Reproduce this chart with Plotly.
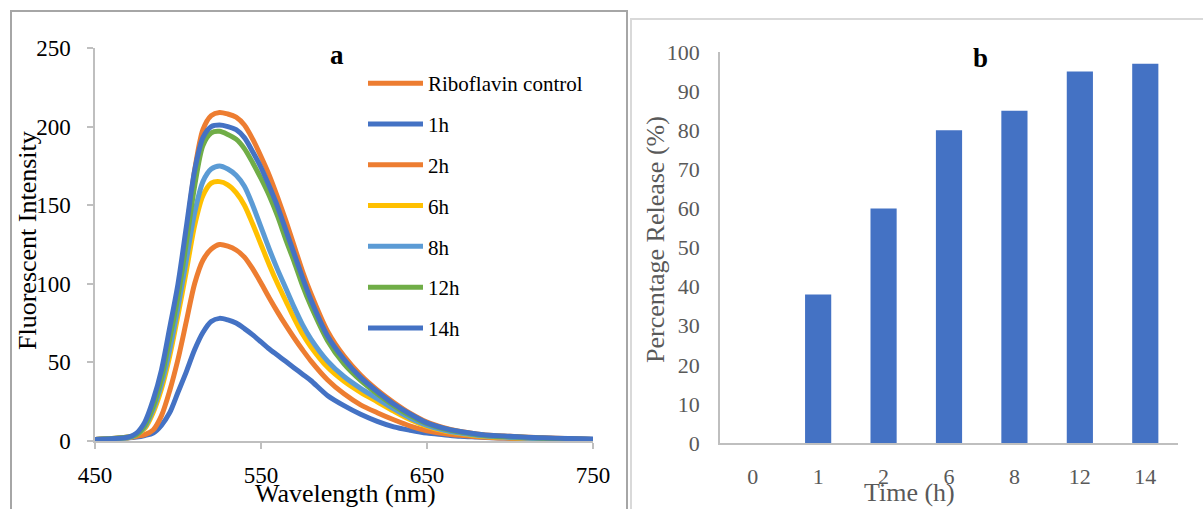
import plotly.graph_objects as go

# ---------------- Panel a data ----------------
wavelength = [450, 460, 470, 475, 480, 485, 490, 495, 500, 505, 510, 515, 520, 525,
              530, 535, 540, 545, 550, 555, 560, 565, 570, 575, 580, 590, 600, 610,
              620, 630, 640, 650, 660, 670, 680, 690, 700, 720, 750]

riboflavin_control = [1, 1.5, 2.5, 4, 10, 23, 42, 68, 96, 132, 172, 198, 207, 209,
                      208, 206, 201, 192, 181, 169, 155, 140, 124, 108, 94, 70, 54, 42,
                      32.5, 24.5, 17.5, 12, 8.5, 6, 4.5, 3.5, 3, 2, 1]
h1 = [1, 1.5, 2, 2.5, 3.5, 5, 10, 18, 31, 44, 58, 69, 76, 78,
      77, 75, 71.5, 67.5, 63, 58.5, 54.5, 50.5, 46.5, 42.5, 38.5, 29, 22.5, 17,
      12.5, 9, 6.8, 5, 4, 3, 2.5, 2, 1.8, 1.3, 1]
h2 = [1, 1.5, 2, 3, 4, 7, 16, 32, 52, 76, 100, 115, 122, 125,
      124, 121.5, 117, 109.5, 100.5, 91, 82, 73.5, 65.5, 58, 51, 39, 30, 23,
      18, 13.5, 9.5, 6.5, 4.8, 3.6, 2.7, 2.1, 1.8, 1.3, 1]
h6 = [1, 1.5, 2, 4, 8, 18, 33, 54, 80, 108, 137, 156, 164, 165,
      163, 158, 150, 138, 125, 112, 100, 89, 78, 68, 60, 47, 38, 31,
      25, 19, 13.5, 9.3, 6.5, 4.7, 3.4, 2.6, 2.1, 1.4, 1]
h8 = [1, 1.5, 2, 4, 9, 20, 36, 58, 85, 115, 145, 165, 173, 175,
      173, 169, 162, 150, 136, 122, 109, 97, 85, 74, 65, 51, 41, 33.5,
      27, 20.5, 14.5, 10, 7, 5, 3.7, 2.8, 2.3, 1.5, 1]
h12 = [1, 1.5, 2.5, 4, 10, 22, 40, 65, 92, 126, 162, 188, 196, 197,
       195, 192, 186, 177, 167, 156, 143, 128, 114, 99, 86, 64, 49, 38.5,
       30, 22.5, 16, 11, 7.8, 5.7, 4.2, 3.2, 2.7, 1.8, 1]
h14 = [1, 1.5, 2.5, 5, 12, 26, 45, 72, 100, 136, 172, 193, 200, 201,
       200, 198, 193, 184, 174, 162, 149, 134, 119, 104, 90, 67, 52, 40.5,
       31.5, 23.5, 17, 11.5, 8.2, 6, 4.5, 3.5, 3, 2, 1.2]

series_names = ["Riboflavin control", "1h", "2h", "6h", "8h", "12h", "14h"]
series_values = [riboflavin_control, h1, h2, h6, h8, h12, h14]
series_colors = ["#ED7D31", "#4472C4", "#ED7D31", "#FFC000", "#5B9BD5", "#70AD47", "#4472C4"]

x_ticks_a = [450, 550, 650, 750]
y_ticks_a = [0, 50, 100, 150, 200, 250]

# ---------------- Panel b data ----------------
time_labels = ["0", "1", "2", "6", "8", "12", "14"]
percent_release = [0, 38, 60, 80, 85, 95, 97]
y_ticks_b = [0, 10, 20, 30, 40, 50, 60, 70, 80, 90, 100]

W, H = 1203, 509
FONT = "Liberation Serif, Times New Roman, serif"

fig = go.Figure()

for i, (name, vals, col) in enumerate(zip(series_names, series_values, series_colors)):
    fig.add_trace(go.Scatter(
        x=wavelength, y=vals, mode="lines", name=name,
        line=dict(color=col, width=5, shape="spline", smoothing=0.8),
        legendgroup=f"g{i}", xaxis="x", yaxis="y"))

fig.add_trace(go.Bar(
    x=time_labels, y=percent_release, marker=dict(color="#4472C4", line=dict(width=0)),
    showlegend=False, xaxis="x2", yaxis="y2"))


def px(x):
    return x / W


def py(y):
    return 1 - y / H


axis_line = "#BFBFBF"

fig.update_layout(
    width=W, height=H,
    margin=dict(l=0, r=0, t=0, b=0, pad=0, autoexpand=False),
    paper_bgcolor="white", plot_bgcolor="white",
    font=dict(family=FONT, color="black", size=22),
    bargap=0.6,
    xaxis=dict(domain=[px(95), px(593)], range=[450, 750], tickvals=x_ticks_a,
               showgrid=False, zeroline=False, showline=True, linecolor=axis_line, linewidth=1.5,
               ticks="outside", ticklen=6, tickcolor=axis_line, tickwidth=1.5,
               tickfont=dict(size=23, color="black"), ticklabelstandoff=7, anchor="y"),
    yaxis=dict(domain=[py(441), py(48)], range=[0, 250], tickvals=y_ticks_a,
               showgrid=False, zeroline=False, showline=True, linecolor=axis_line, linewidth=1.5,
               ticks="outside", ticklen=6, tickcolor=axis_line, tickwidth=1.5,
               tickfont=dict(size=23, color="black"), ticklabelstandoff=12, anchor="x"),
    xaxis2=dict(domain=[px(720), px(1178)], type="category",
                showgrid=False, zeroline=False, showline=True, linecolor=axis_line, linewidth=1.5,
                ticks="", tickfont=dict(size=22, color="#595959"), ticklabelstandoff=13,
                anchor="y2"),
    yaxis2=dict(domain=[py(443), py(52)], range=[0, 100], tickvals=y_ticks_b,
                showgrid=False, zeroline=False, showline=True, linecolor=axis_line, linewidth=1.5,
                ticks="", tickfont=dict(size=22, color="#595959"), ticklabelstandoff=14,
                anchor="x2"),
    legend=dict(x=px(363), y=py(63), xanchor="left", yanchor="top",
                bgcolor="rgba(0,0,0,0)", font=dict(size=21, color="black", family=FONT),
                tracegroupgap=10.5, itemwidth=55, traceorder="grouped"),
    showlegend=True,
)

# panel borders
fig.add_shape(type="rect", xref="paper", yref="paper", x0=px(11), x1=px(627), y0=py(520), y1=py(11),
              line=dict(color="#A6A6A6", width=2), fillcolor="rgba(0,0,0,0)", layer="below")
fig.add_shape(type="rect", xref="paper", yref="paper", x0=px(631), x1=px(1215), y0=py(520), y1=py(19),
              line=dict(color="#D9D9D9", width=2), fillcolor="rgba(0,0,0,0)", layer="below")

common = dict(xref="paper", yref="paper", showarrow=False, xanchor="center", yanchor="middle")
ann = [
    dict(text="<b>a</b>", x=px(337), y=py(55), font=dict(size=27, color="black", family=FONT), **common),
    dict(text="<b>b</b>", x=px(980), y=py(58), font=dict(size=27, color="black", family=FONT), **common),
    dict(text="Wavelength (nm)", x=px(345), y=py(493), font=dict(size=26, color="black", family=FONT), **common),
    dict(text="Fluorescent Intensity", x=px(27), y=py(241), textangle=-90,
         font=dict(size=26, color="black", family=FONT), **common),
    dict(text="Time (h)", x=px(909), y=py(492), font=dict(size=26, color="#595959", family=FONT), **common),
    dict(text="Percentage Release (%)", x=px(655), y=py(240), textangle=-90,
         font=dict(size=26, color="#595959", family=FONT), **common),
]
fig.update_layout(annotations=ann)

fig.write_html("out.html")
